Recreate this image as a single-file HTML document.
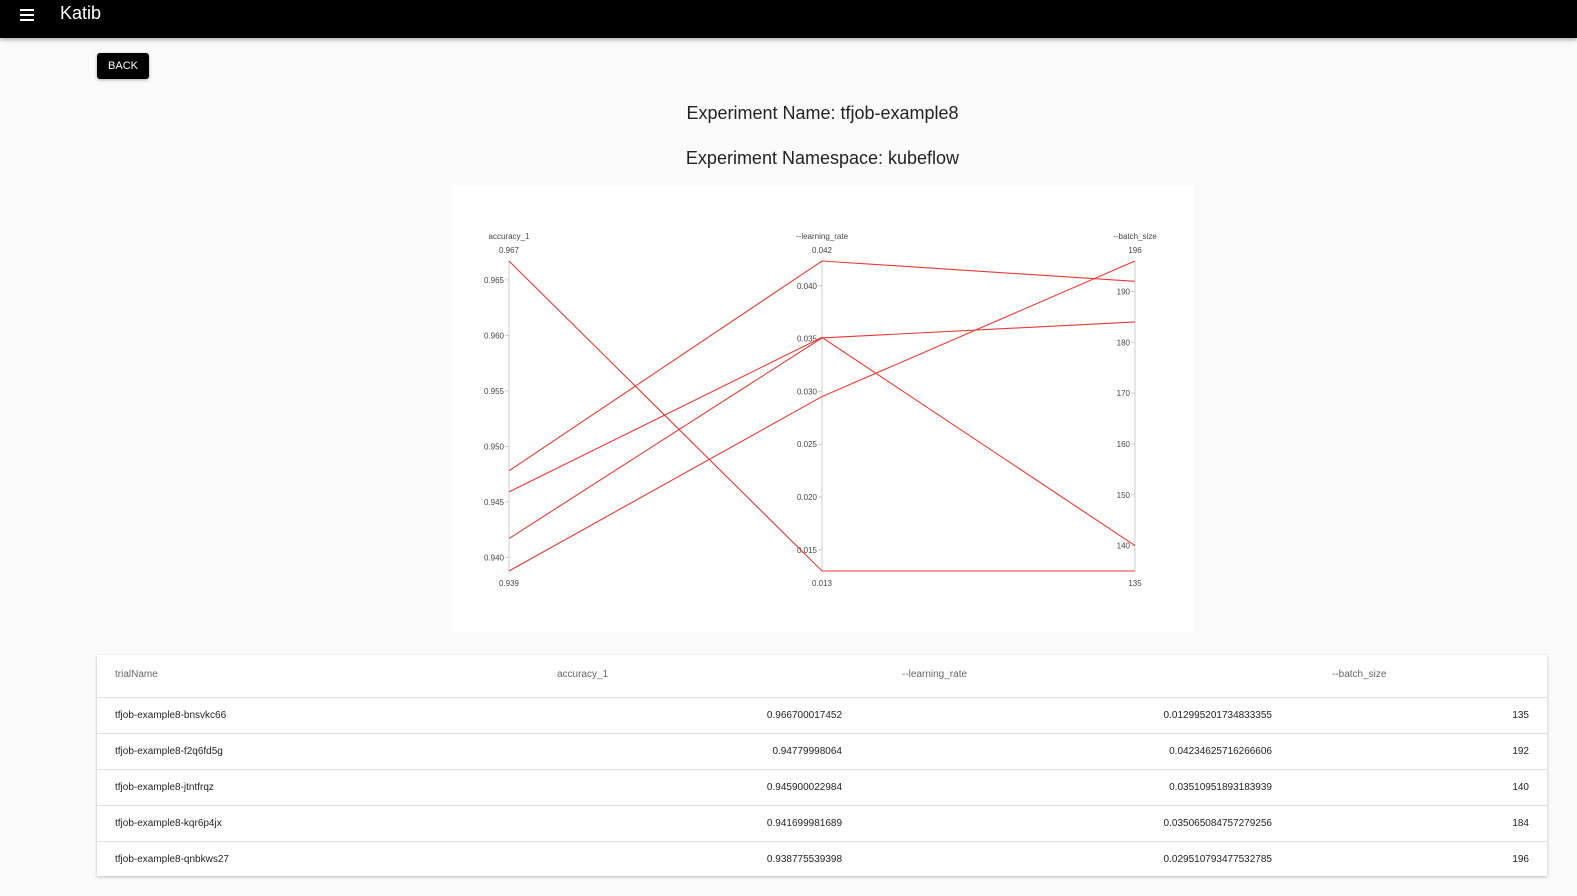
<!DOCTYPE html>
<html><head><meta charset="utf-8">
<style>
body{margin:0;width:1577px;height:896px;background:#fafafa;font-family:"Liberation Sans",Arial,sans-serif;position:relative;overflow:hidden}
.topbar{position:absolute;left:0;top:0;width:1577px;height:38px;background:#000;box-shadow:0 2px 4px rgba(0,0,0,.3)}
.abs{position:absolute}
.t{position:absolute;left:0;width:1645px;text-align:center;font-size:18px;color:#222}
.row{position:absolute;left:0;width:1450px;height:36px;border-top:1px solid #e0e0e0;font-size:10px;color:#222}
.row span{position:absolute;top:12px}
</style></head><body>
<div class="topbar">
<div class="abs" style="left:20px;top:9px;width:14px;height:12px">
<div style="height:2px;background:#fff;margin-bottom:3px"></div><div style="height:2px;background:#fff;margin-bottom:3px"></div><div style="height:2px;background:#fff"></div></div>
<div class="abs" style="left:60px;top:3px;color:#fff;font-size:18px">Katib</div>
</div>
<div class="abs" style="left:97px;top:53px;width:52px;height:26px;background:#000;color:#fff;border-radius:3px;font-size:11px;text-align:center;line-height:27px;box-shadow:0 1px 3px rgba(0,0,0,.3)">BACK</div>
<div class="t" style="top:103px">Experiment Name: tfjob-example8</div>
<div class="t" style="top:148px">Experiment Namespace: kubeflow</div>
<div class="abs" style="left:450px;top:185px;width:744px;height:447px;background:#fff">
<svg id="chart" width="744" height="447" style="font-family:'Liberation Sans',sans-serif"></svg>
</div>
<div class="abs" style="left:97px;top:655px;width:1450px;height:221px;background:#fff;box-shadow:0 1px 3px rgba(0,0,0,.25)">
<div style="position:absolute;top:0;height:42px;width:1450px;font-size:10px;color:#666">
<span class="abs" style="left:18px;top:14px">trialName</span>
<span class="abs" style="left:460px;top:14px">accuracy_1</span>
<span class="abs" style="left:805px;top:14px">--learning_rate</span>
<span class="abs" style="left:1235px;top:14px">--batch_size</span>
</div>
<div id="rows"></div>
</div>
<script>
const trials=["tfjob-example8-bnsvkc66","tfjob-example8-f2q6fd5g","tfjob-example8-jtntfrqz","tfjob-example8-kqr6p4jx","tfjob-example8-qnbkws27"];
const accText=["0.966700017452","0.94779998064","0.945900022984","0.941699981689","0.938775539398"];
const lrText=["0.012995201734833355","0.04234625716266606","0.03510951893183939","0.035065084757279256","0.029510793477532785"];
const batch=[135,192,140,184,196];
const accuracy=accText.map(Number);
const lr=lrText.map(Number);
const accTicks=[0.940,0.945,0.950,0.955,0.960,0.965];
const lrTicks=[0.015,0.020,0.025,0.030,0.035,0.040];
const bTicks=[140,150,160,170,180,190];

const rowsEl=document.getElementById('rows');
trials.forEach((n,i)=>{
  const r=document.createElement('div');r.className='row';r.style.top=(42+i*36)+'px';
  
  
  r.innerHTML=`<span style="left:18px">${n}</span><span style="right:705px">${accText[i]}</span><span style="right:275px">${lrText[i]}</span><span style="right:18px">${batch[i]}</span>`;
  rowsEl.appendChild(r);
});

const NS='http://www.w3.org/2000/svg';
const svg=document.getElementById('chart');
function el(t,a,txt){const e=document.createElementNS(NS,t);for(const k in a)e.setAttribute(k,a[k]);if(txt!=null)e.textContent=txt;svg.appendChild(e);return e;}
const yTop=76,yBot=386;
function scale(vals){const mn=Math.min(...vals),mx=Math.max(...vals);return v=>yBot-(v-mn)/(mx-mn)*(yBot-yTop);}
const axes=[
 {name:'accuracy_1',x:59,vals:accuracy,ticks:accTicks,fmt:v=>v.toFixed(3)},
 {name:'--learning_rate',x:372,vals:lr,ticks:lrTicks,fmt:v=>v.toFixed(3)},
 {name:'--batch_size',x:685,vals:batch,ticks:bTicks,fmt:v=>String(v)}];
axes.forEach(a=>{a.s=scale(a.vals);
  const g=el('line',{x1:a.x,x2:a.x,y1:yTop,y2:yBot,stroke:'#ccc','stroke-width':1});
  
  
  const t=el('text',{x:a.x,y:54,'text-anchor':'middle','font-size':8,fill:'#444'},a.name);
  
  
  el('text',{x:a.x,y:68,'text-anchor':'middle','font-size':8,fill:'#444'},a.fmt(Math.max(...a.vals)));
  el('text',{x:a.x,y:401,'text-anchor':'middle','font-size':8,fill:'#444'},a.fmt(Math.min(...a.vals)));
  a.ticks.forEach(v=>{const y=a.s(v);
    el('line',{x1:a.x-4,x2:a.x,y1:y,y2:y,stroke:'#ccc'});
    const tl=el('text',{x:a.x-5,y:y+3,'text-anchor':'end','font-size':8,fill:'#444'},a.fmt(v));
    
    
  });
});
trials.forEach((n,i)=>{
  const pts=axes.map(a=>a.x+','+a.s(a.vals[i])).join(' ');
  const p=el('polyline',{points:pts,fill:'none',stroke:'#e53935','stroke-width':1.1});
  
  
});
</script>
</body></html>
